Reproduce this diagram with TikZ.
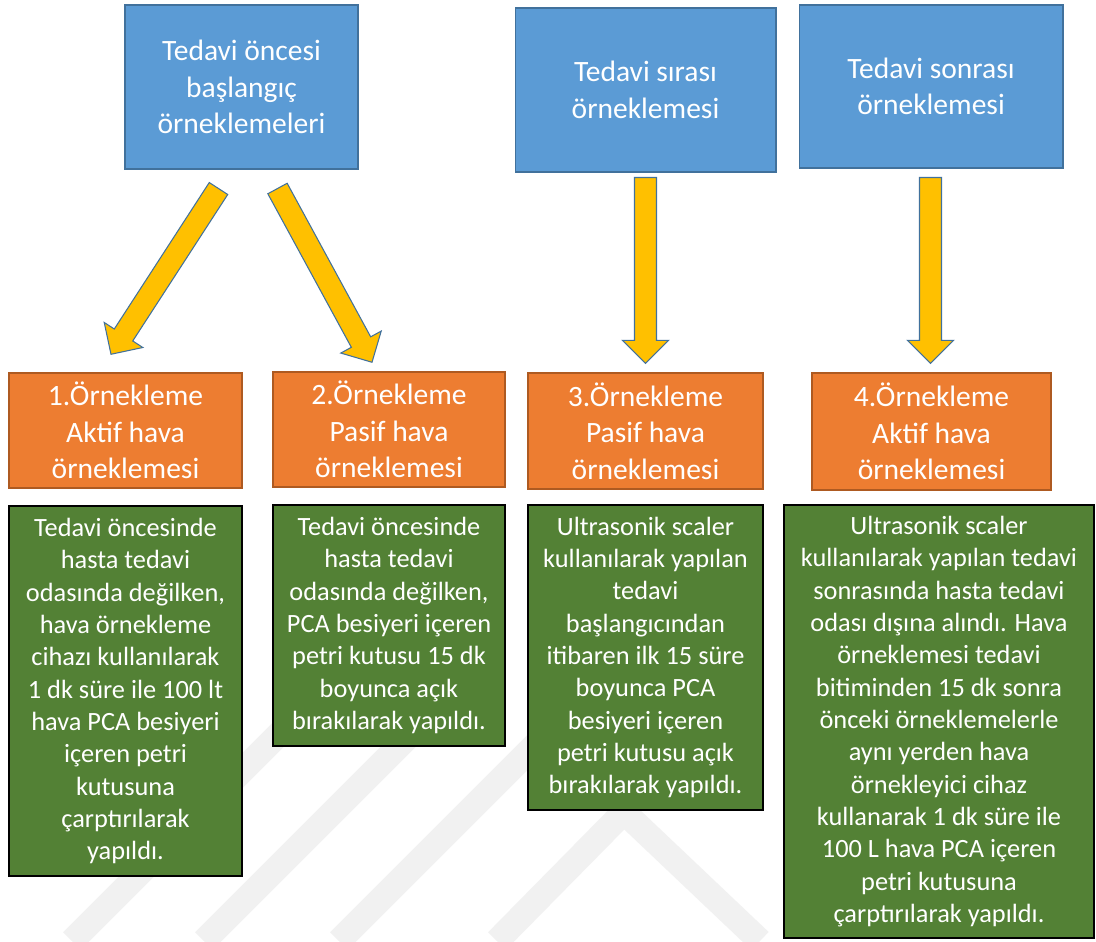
\documentclass[tikz,border=0pt]{standalone}
\usepackage{fontspec}
\setmainfont{Carlito}
\usetikzlibrary{calc}

\definecolor{kutumavi}{HTML}{5B9BD5}
\definecolor{kenarmavi}{HTML}{41719C}
\definecolor{kututuruncu}{HTML}{ED7D31}
\definecolor{kenarturuncu}{HTML}{AE5A21}
\definecolor{kutuyesil}{HTML}{538135}
\definecolor{oksari}{HTML}{FFC000}
\definecolor{filigrangri}{HTML}{F1F1F1}

\tikzset{
  baslik/.style={draw=kenarmavi, fill=kutumavi, line width=0.6pt, text=white, align=center, font=\fontsize{16.8}{20.7}\selectfont},
  ornek/.style={draw=kenarturuncu, fill=kututuruncu, line width=0.85pt, text=white, align=center, font=\fontsize{16.8}{20.7}\selectfont},
  aciklama/.style={draw=black, fill=kutuyesil, line width=1.1pt, text=white, align=center, font=\fontsize{15}{18.4}\selectfont},
  blokok/.style={draw=kenarmavi, fill=oksari, line width=0.6pt, line join=miter},
  filigran/.style={draw=filigrangri, line width=0.5cm}
}

% kalin blok ok: #1 baslangic, #2 uc
\newcommand{\okciz}[2]{%
  \coordinate (okb) at ($(#2)!0.46cm!(#1)$);
  \draw[blokok] ($(#1)!0.22cm!90:(#2)$) -- ($(okb)!0.22cm!90:(#2)$)
    -- ($(okb)!0.46cm!90:(#2)$) -- (#2) -- ($(okb)!0.46cm!-90:(#2)$)
    -- ($(okb)!0.22cm!-90:(#2)$) -- ($(#1)!0.22cm!-90:(#2)$) -- cycle;}

\begin{document}
\begin{tikzpicture}[x=0.02cm,y=-0.02cm]
\useasboundingbox[fill=white] (0,0) rectangle (1096,941);

% filigran
\draw[filigran] (72,941) -- (372,641);
\draw[filigran] (204,941) -- (480,665);
\draw[filigran] (339,941) -- (600,680);
\draw[filigran] (497,941) -- (624,812) -- (760,941);

% ust kutular
\node[baslik, minimum width=4.66cm, minimum height=3.28cm] (b1) at (241.5,87) {Tedavi öncesi\\başlangıç\\örneklemeleri};
\node[baslik, minimum width=5.22cm, minimum height=3.28cm] (b2) at (645.5,90) {Tedavi sırası\\örneklemesi};
\node[baslik, minimum width=5.28cm, minimum height=3.26cm] (b3) at (931,86.5) {Tedavi sonrası\\örneklemesi};

% ornekleme kutulari
\node[ornek, minimum width=4.66cm, minimum height=2.3cm] (o1) at (125.5,430.5) {1.Örnekleme\\Aktif hava\\örneklemesi};
\node[ornek, minimum width=4.64cm, minimum height=2.3cm] (o2) at (389,429.5) {2.Örnekleme\\Pasif hava\\örneklemesi};
\node[ornek, minimum width=4.7cm, minimum height=2.32cm] (o3) at (645.5,431) {3.Örnekleme\\Pasif hava\\örneklemesi};
\node[ornek, minimum width=4.78cm, minimum height=2.34cm] (o4) at (931.5,431.5) {4.Örnekleme\\Aktif hava\\örneklemesi};

% aciklamalar
\node[aciklama, minimum width=4.66cm, minimum height=7.4cm] (g1) at (125.5,691) {Tedavi öncesinde\\hasta tedavi\\odasında değilken,\\hava örnekleme\\cihazı kullanılarak\\1 dk süre ile 100 lt\\hava PCA besiyeri\\içeren petri\\kutusuna\\çarptırılarak\\yapıldı.};
\node[aciklama, minimum width=4.64cm, minimum height=4.82cm] (g2) at (389,625.5) {Tedavi öncesinde\\hasta tedavi\\odasında değilken,\\PCA besiyeri içeren\\petri kutusu 15 dk\\boyunca açık\\bırakılarak yapıldı.};
\node[aciklama, minimum width=4.7cm, minimum height=6.1cm] (g3) at (645.5,657.5) {Ultrasonik scaler\\kullanılarak yapılan\\tedavi\\başlangıcından\\itibaren ilk 15 süre\\boyunca PCA\\besiyeri içeren\\petri kutusu açık\\bırakılarak yapıldı.};
\node[aciklama, minimum width=6.2cm, minimum height=8.66cm] (g4) at (939,721.5) {Ultrasonik scaler\\kullanılarak yapılan tedavi\\sonrasında hasta tedavi\\odası dışına alındı. Hava\\örneklemesi tedavi\\bitiminden 15 dk sonra\\önceki örneklemelerle\\aynı yerden hava\\örnekleyici cihaz\\kullanarak 1 dk süre ile\\100 L hava PCA içeren\\petri kutusuna\\çarptırılarak yapıldı.};

% oklar
\coordinate (a1s) at ($(b1.south)+(-23,19)$);
\coordinate (a1t) at ($(o1.north)+(-14.5,-18)$);
\coordinate (a2s) at ($(b1.south)+(36,19)$);
\coordinate (a2t) at ($(o2.north)+(-17,-9)$);
\coordinate (a3s) at ($(b2.south)+(0,5)$);
\coordinate (a3t) at ($(o3.north)+(0,-9)$);
\coordinate (a4s) at ($(b3.south)+(-0.5,9)$);
\coordinate (a4t) at ($(o4.north)+(-1,-9)$);
\okciz{a1s}{a1t}
\okciz{a2s}{a2t}
\okciz{a3s}{a3t}
\okciz{a4s}{a4t}
\end{tikzpicture}
\end{document}
